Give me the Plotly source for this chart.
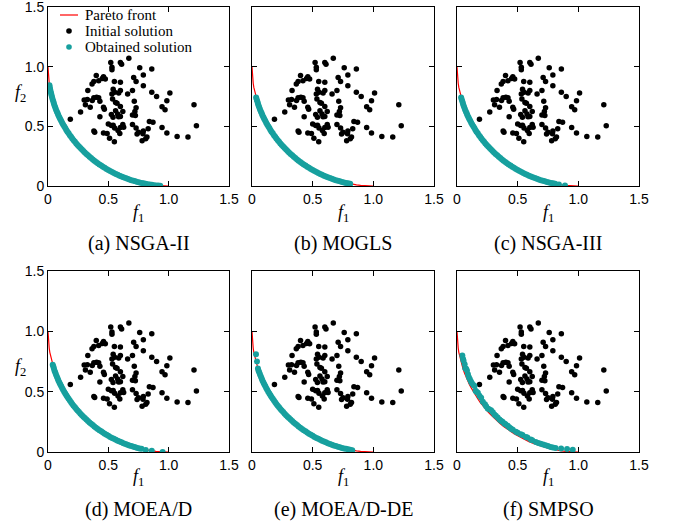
import plotly.graph_objects as go

# ---------------- data ----------------
TICK_VALS = [0, 0.5, 1.0, 1.5]
TICK_TEXT = ["0", "0.5", "1.0", "1.5"]
LEGEND_NAMES = ["Pareto front", "Initial solution", "Obtained solution"]

PF_F1 = [0.0, 0.002, 0.005, 0.010, 0.015, 0.022, 0.030, 0.039, 0.049, 0.060, 0.073, 0.086,
         0.101, 0.117, 0.134, 0.152, 0.171, 0.191, 0.212, 0.234, 0.257, 0.281, 0.305,
         0.331, 0.357, 0.384, 0.412, 0.441, 0.470, 0.500, 0.531, 0.562, 0.593, 0.625,
         0.658, 0.691, 0.724, 0.758, 0.792, 0.826, 0.861, 0.895, 0.930, 0.965, 1.0]
PF_F2 = [1.0, 0.937, 0.900, 0.861, 0.826, 0.792, 0.758, 0.724, 0.691, 0.658, 0.625, 0.593,
         0.562, 0.531, 0.500, 0.470, 0.441, 0.412, 0.384, 0.357, 0.331, 0.305, 0.281,
         0.257, 0.234, 0.212, 0.191, 0.171, 0.152, 0.134, 0.117, 0.101, 0.086, 0.073,
         0.060, 0.049, 0.039, 0.030, 0.022, 0.015, 0.010, 0.005, 0.002, 0.001, 0.0]

INIT_F1 = [0.185, 0.27, 0.31, 0.30, 0.326, 0.33, 0.365, 0.38, 0.40, 0.42, 0.45, 0.46, 0.475,
           0.38, 0.403, 0.42, 0.43, 0.367, 0.35, 0.43, 0.46, 0.467, 0.38, 0.387, 0.46, 0.49,
           0.52, 0.53, 0.53, 0.60, 0.61, 0.67, 0.76, 0.86, 0.79, 0.71, 0.73, 0.79, 0.55, 0.60,
           0.54, 0.53, 0.552, 0.60, 0.586, 0.535, 0.56, 0.572, 0.56, 0.577, 0.60, 0.62, 0.525,
           0.539, 0.585, 0.60, 0.66, 0.70, 0.715, 0.73, 0.72, 0.70, 0.724, 0.70, 0.73, 0.75,
           0.738, 0.79, 0.787, 0.78, 0.81, 0.82, 0.83, 0.84, 0.87, 0.86, 0.90, 0.945, 0.97,
           0.985, 1.01, 0.945, 0.985, 1.07, 1.16, 1.21, 1.23, 0.50, 0.525, 0.54, 0.552, 0.51,
           0.55, 0.595, 0.60, 0.62, 0.627, 0.58]
INIT_F2 = [0.56, 0.62, 0.68, 0.72, 0.724, 0.80, 0.855, 0.875, 0.925, 0.883, 0.90, 0.915, 0.897,
           0.74, 0.744, 0.74, 0.71, 0.716, 0.66, 0.58, 0.66, 0.643, 0.46, 0.451, 0.445, 0.44,
           1.035, 0.995, 0.975, 1.035, 1.02, 1.07, 0.99, 0.98, 0.93, 0.91, 0.875, 0.84, 0.875,
           0.87, 0.81, 0.77, 0.786, 0.80, 0.78, 0.73, 0.70, 0.694, 0.63, 0.604, 0.666, 0.625,
           0.60, 0.577, 0.58, 0.582, 0.77, 0.80, 0.71, 0.655, 0.625, 0.595, 0.59, 0.515, 0.485,
           0.45, 0.435, 0.46, 0.437, 0.38, 0.395, 0.41, 0.48, 0.54, 0.535, 0.785, 0.75, 0.665,
           0.64, 0.715, 0.78, 0.49, 0.445, 0.415, 0.41, 0.68, 0.505, 0.52, 0.507, 0.51, 0.487,
           0.40, 0.37, 0.44, 0.49, 0.515, 0.493, 0.465]

NSGA2_F1 = [0.012, 0.015, 0.018, 0.022, 0.026, 0.030, 0.034, 0.039, 0.044, 0.049, 0.054, 0.060,
            0.066, 0.073, 0.080, 0.086, 0.094, 0.101, 0.109, 0.117, 0.125, 0.134, 0.143, 0.152,
            0.161, 0.171, 0.181, 0.191, 0.201, 0.212, 0.223, 0.234, 0.245, 0.257, 0.269, 0.281,
            0.293, 0.305, 0.318, 0.331, 0.344, 0.357, 0.371, 0.384, 0.398, 0.412, 0.426, 0.441,
            0.455, 0.470, 0.485, 0.500, 0.515, 0.531, 0.546, 0.562, 0.577, 0.593, 0.609, 0.625,
            0.642, 0.658, 0.674, 0.691, 0.708, 0.724, 0.741, 0.758, 0.775, 0.792, 0.809, 0.826,
            0.844, 0.861, 0.878, 0.895, 0.913, 0.930]
NSGA2_F2 = [0.844, 0.826, 0.809, 0.792, 0.775, 0.758, 0.741, 0.724, 0.708, 0.691, 0.674, 0.658,
            0.642, 0.625, 0.609, 0.593, 0.577, 0.562, 0.546, 0.531, 0.515, 0.500, 0.485, 0.470,
            0.455, 0.441, 0.426, 0.412, 0.398, 0.384, 0.371, 0.357, 0.344, 0.331, 0.318, 0.305,
            0.293, 0.281, 0.269, 0.257, 0.245, 0.234, 0.223, 0.212, 0.201, 0.191, 0.181, 0.171,
            0.161, 0.152, 0.143, 0.134, 0.125, 0.117, 0.109, 0.101, 0.094, 0.086, 0.080, 0.073,
            0.066, 0.060, 0.054, 0.049, 0.044, 0.039, 0.034, 0.030, 0.026, 0.022, 0.018, 0.015,
            0.012, 0.010, 0.007, 0.005, 0.004, 0.002]

MOGLS_F1 = [0.034, 0.039, 0.044, 0.049, 0.054, 0.060, 0.066, 0.073, 0.080, 0.086, 0.094, 0.101,
            0.109, 0.117, 0.125, 0.134, 0.143, 0.152, 0.161, 0.171, 0.181, 0.191, 0.201, 0.212,
            0.223, 0.234, 0.245, 0.257, 0.269, 0.281, 0.293, 0.305, 0.318, 0.331, 0.344, 0.357,
            0.371, 0.384, 0.398, 0.412, 0.426, 0.441, 0.455, 0.470, 0.485, 0.500, 0.515, 0.531,
            0.546, 0.562, 0.577, 0.593, 0.609, 0.625, 0.642, 0.658, 0.674, 0.691, 0.708, 0.724,
            0.741, 0.758, 0.775, 0.792, 0.809]
MOGLS_F2 = [0.741, 0.724, 0.708, 0.691, 0.674, 0.658, 0.642, 0.625, 0.609, 0.593, 0.577, 0.562,
            0.546, 0.531, 0.515, 0.500, 0.485, 0.470, 0.455, 0.441, 0.426, 0.412, 0.398, 0.384,
            0.371, 0.357, 0.344, 0.331, 0.318, 0.305, 0.293, 0.281, 0.269, 0.257, 0.245, 0.234,
            0.223, 0.212, 0.201, 0.191, 0.181, 0.171, 0.161, 0.152, 0.143, 0.134, 0.125, 0.117,
            0.109, 0.101, 0.094, 0.086, 0.080, 0.073, 0.066, 0.060, 0.054, 0.049, 0.044, 0.039,
            0.034, 0.030, 0.026, 0.022, 0.018]

NSGA3_F1 = [0.034, 0.039, 0.044, 0.049, 0.054, 0.060, 0.066, 0.073, 0.080, 0.086, 0.094, 0.101,
            0.109, 0.117, 0.125, 0.134, 0.143, 0.152, 0.161, 0.171, 0.181, 0.191, 0.201, 0.212,
            0.223, 0.234, 0.245, 0.257, 0.269, 0.281, 0.293, 0.305, 0.318, 0.331, 0.344, 0.357,
            0.371, 0.384, 0.398, 0.412, 0.426, 0.441, 0.455, 0.470, 0.485, 0.500, 0.515, 0.531,
            0.546, 0.562, 0.577, 0.593, 0.609, 0.625, 0.642, 0.658, 0.674, 0.691, 0.708, 0.724,
            0.741, 0.758, 0.775, 0.792, 0.809, 0.84, 0.89]
NSGA3_F2 = [0.741, 0.724, 0.708, 0.691, 0.674, 0.658, 0.642, 0.625, 0.609, 0.593, 0.577, 0.562,
            0.546, 0.531, 0.515, 0.500, 0.485, 0.470, 0.455, 0.441, 0.426, 0.412, 0.398, 0.384,
            0.371, 0.357, 0.344, 0.331, 0.318, 0.305, 0.293, 0.281, 0.269, 0.257, 0.245, 0.234,
            0.223, 0.212, 0.201, 0.191, 0.181, 0.171, 0.161, 0.152, 0.143, 0.134, 0.125, 0.117,
            0.109, 0.101, 0.094, 0.086, 0.080, 0.073, 0.066, 0.060, 0.054, 0.049, 0.044, 0.039,
            0.034, 0.030, 0.026, 0.022, 0.018, 0.013, 0.005]

MOEAD_F1 = [0.039, 0.044, 0.049, 0.054, 0.060, 0.066, 0.073, 0.080, 0.086, 0.094, 0.101,
            0.109, 0.117, 0.125, 0.134, 0.143, 0.152, 0.161, 0.171, 0.181, 0.191, 0.201, 0.212,
            0.223, 0.234, 0.245, 0.257, 0.269, 0.281, 0.293, 0.305, 0.318, 0.331, 0.344, 0.357,
            0.371, 0.384, 0.398, 0.412, 0.426, 0.441, 0.455, 0.470, 0.485, 0.500, 0.515, 0.531,
            0.546, 0.562, 0.577, 0.593, 0.609, 0.625, 0.642, 0.658, 0.674, 0.691, 0.708, 0.724,
            0.741, 0.758, 0.775, 0.81, 0.86, 0.95]
MOEAD_F2 = [0.724, 0.708, 0.691, 0.674, 0.658, 0.642, 0.625, 0.609, 0.593, 0.577, 0.562,
            0.546, 0.531, 0.515, 0.500, 0.485, 0.470, 0.455, 0.441, 0.426, 0.412, 0.398, 0.384,
            0.371, 0.357, 0.344, 0.331, 0.318, 0.305, 0.293, 0.281, 0.269, 0.257, 0.245, 0.234,
            0.223, 0.212, 0.201, 0.191, 0.181, 0.171, 0.161, 0.152, 0.143, 0.134, 0.125, 0.117,
            0.109, 0.101, 0.094, 0.086, 0.080, 0.073, 0.066, 0.060, 0.054, 0.049, 0.044, 0.039,
            0.034, 0.030, 0.026, 0.017, 0.010, 0.001]

MOEADDE_F1 = [0.033, 0.041, 0.049, 0.054, 0.060, 0.066, 0.073, 0.080, 0.086, 0.094, 0.101,
              0.109, 0.117, 0.125, 0.134, 0.143, 0.152, 0.161, 0.171, 0.181, 0.191, 0.201, 0.212,
              0.223, 0.234, 0.245, 0.257, 0.269, 0.281, 0.293, 0.305, 0.318, 0.331, 0.344, 0.357,
              0.371, 0.384, 0.398, 0.412, 0.426, 0.441, 0.455, 0.470, 0.485, 0.500, 0.515, 0.531,
              0.546, 0.562, 0.577, 0.593, 0.609, 0.625, 0.642, 0.658, 0.674, 0.691, 0.708, 0.724,
              0.741, 0.758, 0.775, 0.792, 0.809, 0.826]
MOEADDE_F2 = [0.81, 0.75, 0.691, 0.674, 0.658, 0.642, 0.625, 0.609, 0.593, 0.577, 0.562,
              0.546, 0.531, 0.515, 0.500, 0.485, 0.470, 0.455, 0.441, 0.426, 0.412, 0.398, 0.384,
              0.371, 0.357, 0.344, 0.331, 0.318, 0.305, 0.293, 0.281, 0.269, 0.257, 0.245, 0.234,
              0.223, 0.212, 0.201, 0.191, 0.181, 0.171, 0.161, 0.152, 0.143, 0.134, 0.125, 0.117,
              0.109, 0.101, 0.094, 0.086, 0.080, 0.073, 0.066, 0.060, 0.054, 0.049, 0.044, 0.039,
              0.034, 0.030, 0.026, 0.022, 0.018, 0.015]

SMPSO_F1 = [0.044, 0.050, 0.054, 0.063, 0.068, 0.075, 0.082, 0.090, 0.098, 0.106, 0.115, 0.123,
            0.135, 0.144, 0.153, 0.160, 0.172, 0.185, 0.199, 0.213, 0.230, 0.240, 0.253, 0.265,
            0.281, 0.295, 0.308, 0.320, 0.335, 0.350, 0.362, 0.375, 0.390, 0.400, 0.417, 0.430,
            0.444, 0.460, 0.485, 0.500, 0.526, 0.540, 0.567, 0.580, 0.608, 0.620, 0.649, 0.670,
            0.689, 0.710, 0.730, 0.750, 0.771, 0.790, 0.812, 0.858, 0.907, 0.954]
SMPSO_F2 = [0.800, 0.770, 0.756, 0.728, 0.694, 0.690, 0.675, 0.644, 0.620, 0.603, 0.585, 0.569,
            0.555, 0.547, 0.508, 0.500, 0.492, 0.467, 0.450, 0.417, 0.395, 0.380, 0.361, 0.355,
            0.347, 0.330, 0.311, 0.300, 0.286, 0.270, 0.258, 0.250, 0.236, 0.230, 0.217, 0.205,
            0.194, 0.185, 0.167, 0.160, 0.147, 0.140, 0.125, 0.120, 0.103, 0.098, 0.083, 0.075,
            0.069, 0.062, 0.056, 0.050, 0.042, 0.037, 0.033, 0.028, 0.025, 0.019]

PANELS = [
    ("(a) NSGA-II", NSGA2_F1, NSGA2_F2),
    ("(b) MOGLS", MOGLS_F1, MOGLS_F2),
    ("(c) NSGA-III", NSGA3_F1, NSGA3_F2),
    ("(d) MOEA/D", MOEAD_F1, MOEAD_F2),
    ("(e) MOEA/D-DE", MOEADDE_F1, MOEADDE_F2),
    ("(f) SMPSO", SMPSO_F1, SMPSO_F2),
]

# ---------------- layout ----------------
W, H = 675, 525
COLS_PX = [(48, 229), (252, 434), (457, 639)]
ROWS_PX = [(7, 186), (271, 452)]
F1_Y = [213, 477]
CAP_Y = [243, 509]
F2_Y = [93, 367]
RED = "#ff0000"
TEAL = "#17a09e"
SERIF = "Liberation Serif, Times New Roman, serif"
SANS = "Liberation Sans, Arial, sans-serif"


def px(x):
    return min(1.0, max(0.0, x / W))


def py(y):
    return min(1.0, max(0.0, 1 - y / H))


def label(text, x, y, size, xanchor="center"):
    return dict(text=text, x=px(x), y=py(y), xref="paper", yref="paper",
                xanchor=xanchor, yanchor="middle", showarrow=False,
                font=dict(family=SERIF, size=size, color="black"))


fig = go.Figure()
layout = dict(width=W, height=H, margin=dict(l=0, r=0, t=0, b=0, autoexpand=False),
              paper_bgcolor="white", plot_bgcolor="white", showlegend=False)
annotations = []
shapes = []

for i, (title, ox, oy) in enumerate(PANELS):
    r, c = divmod(i, 3)
    x0, x1 = COLS_PX[c]
    y0, y1 = ROWS_PX[r]
    n = "" if i == 0 else str(i + 1)
    xa, ya = "x" + n, "y" + n
    fig.add_trace(go.Scatter(x=PF_F1, y=PF_F2, mode="lines", xaxis=xa, yaxis=ya,
                             line=dict(color=RED, width=1.2), name=LEGEND_NAMES[0]))
    fig.add_trace(go.Scatter(x=INIT_F1, y=INIT_F2, mode="markers", xaxis=xa, yaxis=ya,
                             marker=dict(color="black", size=5.5), name=LEGEND_NAMES[1]))
    fig.add_trace(go.Scatter(x=ox, y=oy, mode="markers", xaxis=xa, yaxis=ya,
                             marker=dict(color=TEAL, size=6), name=LEGEND_NAMES[2]))
    common = dict(range=[0, 1.5], tickvals=TICK_VALS, ticktext=TICK_TEXT,
                  ticks="inside", ticklen=5, tickcolor="black", showline=True,
                  linecolor="black", linewidth=1, mirror="ticks", showgrid=False,
                  zeroline=False, tickfont=dict(family=SANS, size=14, color="black"),
                  fixedrange=True, automargin=False, ticklabeloverflow="allow")
    layout["xaxis" + n] = dict(common, domain=[px(x0), px(x1)], anchor=ya)
    layout["yaxis" + n] = dict(common, domain=[py(y1), py(y0)], anchor=xa,
                               showticklabels=(c == 0))
    cx = (x0 + x1) / 2
    annotations.append(label("<i>f</i><sub>1</sub>", cx, F1_Y[r], 18))
    annotations.append(label(title, cx, CAP_Y[r], 20))
    if c == 0:
        annotations.append(label("<i>f</i><sub>2</sub>", 20, F2_Y[r], 18))

# legend drawn inside panel (a)
LEG_Y = [15, 31, 47]
shapes.append(dict(type="line", xref="paper", yref="paper", x0=px(60), x1=px(78),
                   y0=py(LEG_Y[0]), y1=py(LEG_Y[0]), line=dict(color=RED, width=1.2)))
for yy, col in zip(LEG_Y[1:], ["black", TEAL]):
    shapes.append(dict(type="circle", xref="paper", yref="paper",
                       x0=px(69 - 2.8), x1=px(69 + 2.8),
                       y0=py(yy + 2.8), y1=py(yy - 2.8),
                       fillcolor=col, line=dict(width=0)))
for yy, name in zip(LEG_Y, LEGEND_NAMES):
    annotations.append(label(name, 83, yy, 15, xanchor="left"))

layout["annotations"] = annotations
layout["shapes"] = shapes
fig.update_layout(**layout)
fig.write_html("out.html", config={"displayModeBar": False},
               post_script="document.body.style.margin='0';"
                           "document.body.style.overflow='hidden';")
